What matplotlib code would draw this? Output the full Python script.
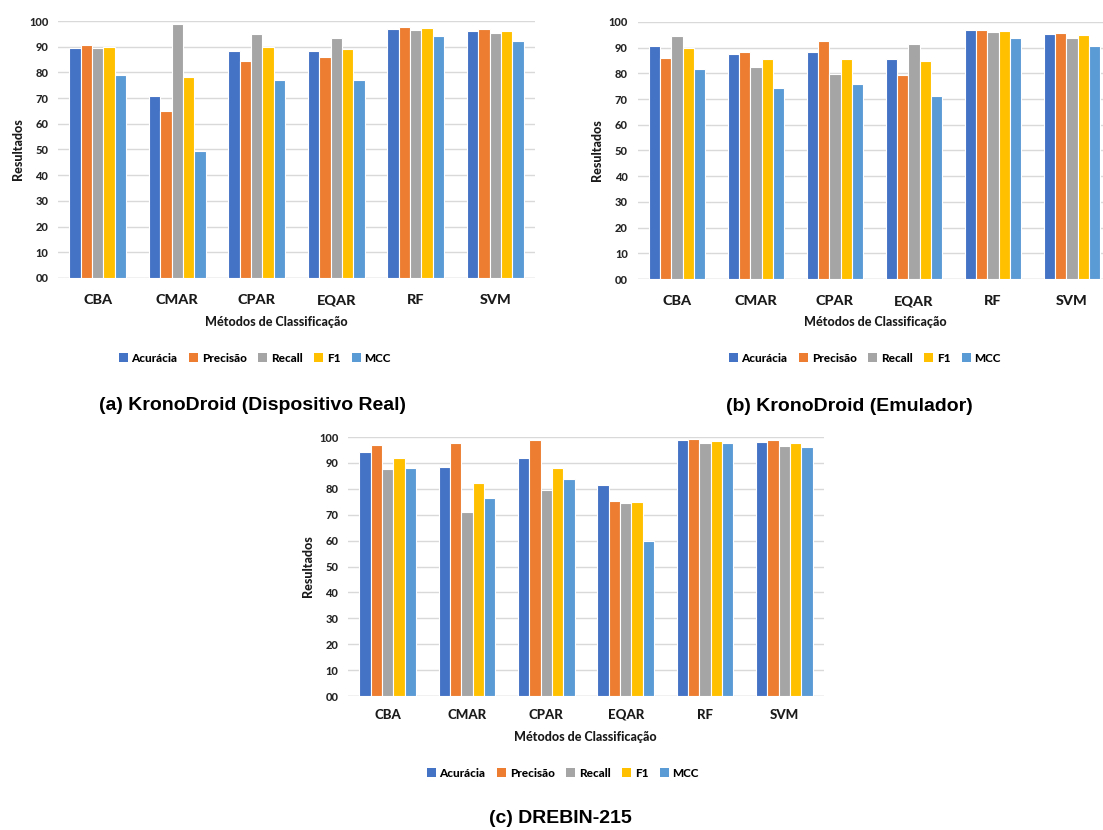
import matplotlib
matplotlib.use('Agg')
import matplotlib.pyplot as plt
import numpy as np
from matplotlib.patches import Patch

metodos = ['CBA', 'CMAR', 'CPAR', 'EQAR', 'RF', 'SVM']
metricas = ['Acurácia', 'Precisão', 'Recall', 'F1', 'MCC']
cores = ['#4472C4', '#ED7D31', '#A5A5A5', '#FFC000', '#5B9BD5']

# (a) KronoDroid (Dispositivo Real)
real_acuracia = [89.4, 70.9, 88.2, 88.2, 96.9, 96.2]
real_precisao = [90.5, 64.9, 84.3, 85.9, 97.8, 96.9]
real_recall = [89.4, 98.8, 95.1, 93.5, 96.6, 95.5]
real_f1 = [90.0, 78.2, 89.8, 89.2, 97.4, 96.2]
real_mcc = [79.0, 49.5, 77.0, 77.0, 94.3, 92.3]

# (b) KronoDroid (Emulador)
emu_acuracia = [90.8, 87.4, 88.2, 85.5, 97.0, 95.2]
emu_precisao = [85.9, 88.4, 92.5, 79.3, 97.0, 95.6]
emu_recall = [94.7, 82.4, 79.9, 91.3, 96.2, 93.9]
emu_f1 = [90.0, 85.5, 85.5, 84.7, 96.6, 94.8]
emu_mcc = [81.6, 74.4, 76.0, 71.3, 93.9, 90.5]

# (c) DREBIN-215
drebin_acuracia = [94.2, 88.6, 91.9, 81.3, 98.7, 98.0]
drebin_precisao = [96.9, 97.7, 98.7, 75.3, 99.1, 98.7]
drebin_recall = [87.8, 71.2, 79.4, 74.5, 97.7, 96.5]
drebin_f1 = [91.9, 82.4, 88.2, 74.9, 98.3, 97.6]
drebin_mcc = [88.0, 76.4, 83.6, 60.0, 97.7, 96.1]

W, H = 1103, 830
fig = plt.figure(figsize=(W / 100, H / 100), dpi=100)
fonte = ['Lato', 'DejaVu Sans']
peso = 'black'


def px(x, y):
    # pixel -> fração da figura
    return x / W, 1 - y / H


def grafico(rect, series, cat_size, cat_pad, ylab_x, xlab_xy, leg_xy, cap_xy, caption):
    ax = fig.add_axes(rect)
    x = np.arange(len(metodos))
    w = 0.143
    for k, vals in enumerate(series):
        ax.bar(x + (k - 2) * w, vals, w, color=cores[k], edgecolor='white',
               linewidth=0.8, zorder=3)
    ax.set_xlim(-0.5, len(metodos) - 0.5)
    ax.set_ylim(0, 100)
    ax.set_yticks(range(0, 101, 10))
    ax.set_yticklabels(['%02d' % v for v in range(0, 101, 10)],
                       fontfamily=fonte, fontweight=peso, fontsize=8, color='#262626')
    ax.set_xticks(x)
    ax.set_xticklabels([])
    # rótulos das categorias alinhados pela linha de base
    for i, m in enumerate(metodos):
        ax.annotate(m, (i, 0), xycoords=('data', 'axes fraction'),
                    xytext=(0, -cat_pad), textcoords='offset points',
                    ha='center', va='baseline', fontfamily=fonte, fontweight=peso,
                    fontsize=cat_size, color='#1a1a1a')
    ax.tick_params(axis='y', length=0, pad=7)
    ax.tick_params(axis='x', length=0)
    ax.grid(axis='y', color='#D9D9D9', linewidth=1, zorder=0)
    for s in ax.spines.values():
        s.set_visible(False)
    ax.axhline(0, color='#D9D9D9', linewidth=1, zorder=1)

    bx, by = rect[1], rect[1] + rect[3]
    fig.text(ylab_x / W, (bx + by) / 2, 'Resultados', rotation=90,
             ha='center', va='center', fontfamily=fonte, fontweight=peso,
             fontsize=9, color='#1a1a1a')
    fig.text(*px(*xlab_xy), 'Métodos de Classificação', ha='center', va='center',
             fontfamily=fonte, fontweight=peso, fontsize=9, color='#1a1a1a')
    handles = [Patch(facecolor=c, label=m) for c, m in zip(cores, metricas)]
    fig.legend(handles=handles, loc='center', bbox_to_anchor=px(*leg_xy), ncol=5,
               frameon=False, handlelength=0.75, handleheight=0.75, handletextpad=0.3,
               columnspacing=1.0, prop={'family': fonte, 'weight': peso, 'size': 8.5})
    fig.text(*px(*cap_xy), caption, ha='center', va='center',
             fontfamily='Liberation Sans', fontweight='bold', fontsize=14, color='black')
    return ax


grafico([58 / W, 1 - 278 / H, 477 / W, 257 / H],
        [real_acuracia, real_precisao, real_recall, real_f1, real_mcc],
        10.4, 19, 18, (276, 322), (255, 358), (252, 405),
        '(a) KronoDroid (Dispositivo Real)')

grafico([637.5 / W, 1 - 279 / H, 474 / W, 257 / H],
        [emu_acuracia, emu_precisao, emu_recall, emu_f1, emu_mcc],
        10.4, 19, 597, (875, 322), (865, 358), (849, 406),
        '(b) KronoDroid (Emulador)')

grafico([348 / W, 1 - 696 / H, 476 / W, 259 / H],
        [drebin_acuracia, drebin_precisao, drebin_recall, drebin_f1, drebin_mcc],
        9.5, 16.5, 308, (585, 737), (563, 773), (560, 818),
        '(c) DREBIN-215')

fig.savefig('out.png', dpi=100, facecolor='white')
